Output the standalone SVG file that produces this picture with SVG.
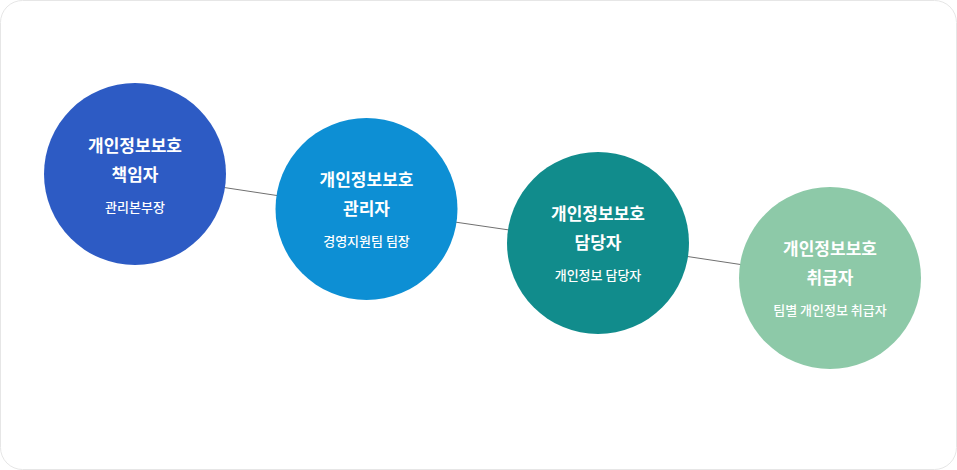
<svg xmlns="http://www.w3.org/2000/svg" width="957" height="470" viewBox="0 0 957 470">
<style>
.t{font-family:"Noto Sans CJK KR","Noto Sans",sans-serif;font-weight:bold;font-size:17px;fill:#fff;text-anchor:middle}
.s{font-family:"Noto Sans CJK KR","Noto Sans",sans-serif;font-weight:500;font-size:13px;fill:#fff;text-anchor:middle}
.c{stroke:#707070;stroke-width:1;fill:none}
</style>
<rect x="0.5" y="0.5" width="956" height="469" rx="22" fill="#fff" stroke="#e6e6e6"/>
<g id="connectors">
<line class="c" x1="135" y1="174" x2="366" y2="209"/>
<line class="c" x1="366" y1="209" x2="598" y2="243"/>
<line class="c" x1="598" y1="243" x2="830" y2="278"/>
</g>
<g id="n1">
<circle cx="135" cy="174" r="91" fill="#2d5bc4"/>
<text class="t" x="135" y="152">개인정보보호</text>
<text class="t" x="135" y="181">책임자</text>
<text class="s" x="135" y="212">관리본부장</text>
</g>
<g id="n2">
<circle cx="366.5" cy="209" r="91" fill="#0d8fd4"/>
<text class="t" x="366.5" y="186">개인정보보호</text>
<text class="t" x="366.5" y="215">관리자</text>
<text class="s" x="366.5" y="246">경영지원팀 팀장</text>
</g>
<g id="n3">
<circle cx="598" cy="243" r="91" fill="#118c8c"/>
<text class="t" x="598" y="220">개인정보보호</text>
<text class="t" x="598" y="249">담당자</text>
<text class="s" x="598" y="280">개인정보 담당자</text>
</g>
<g id="n4">
<circle cx="830" cy="278" r="91" fill="#8dc9a8"/>
<text class="t" x="830" y="255">개인정보보호</text>
<text class="t" x="830" y="284">취급자</text>
<text class="s" x="830" y="315">팀별 개인정보 취급자</text>
</g>
</svg>
